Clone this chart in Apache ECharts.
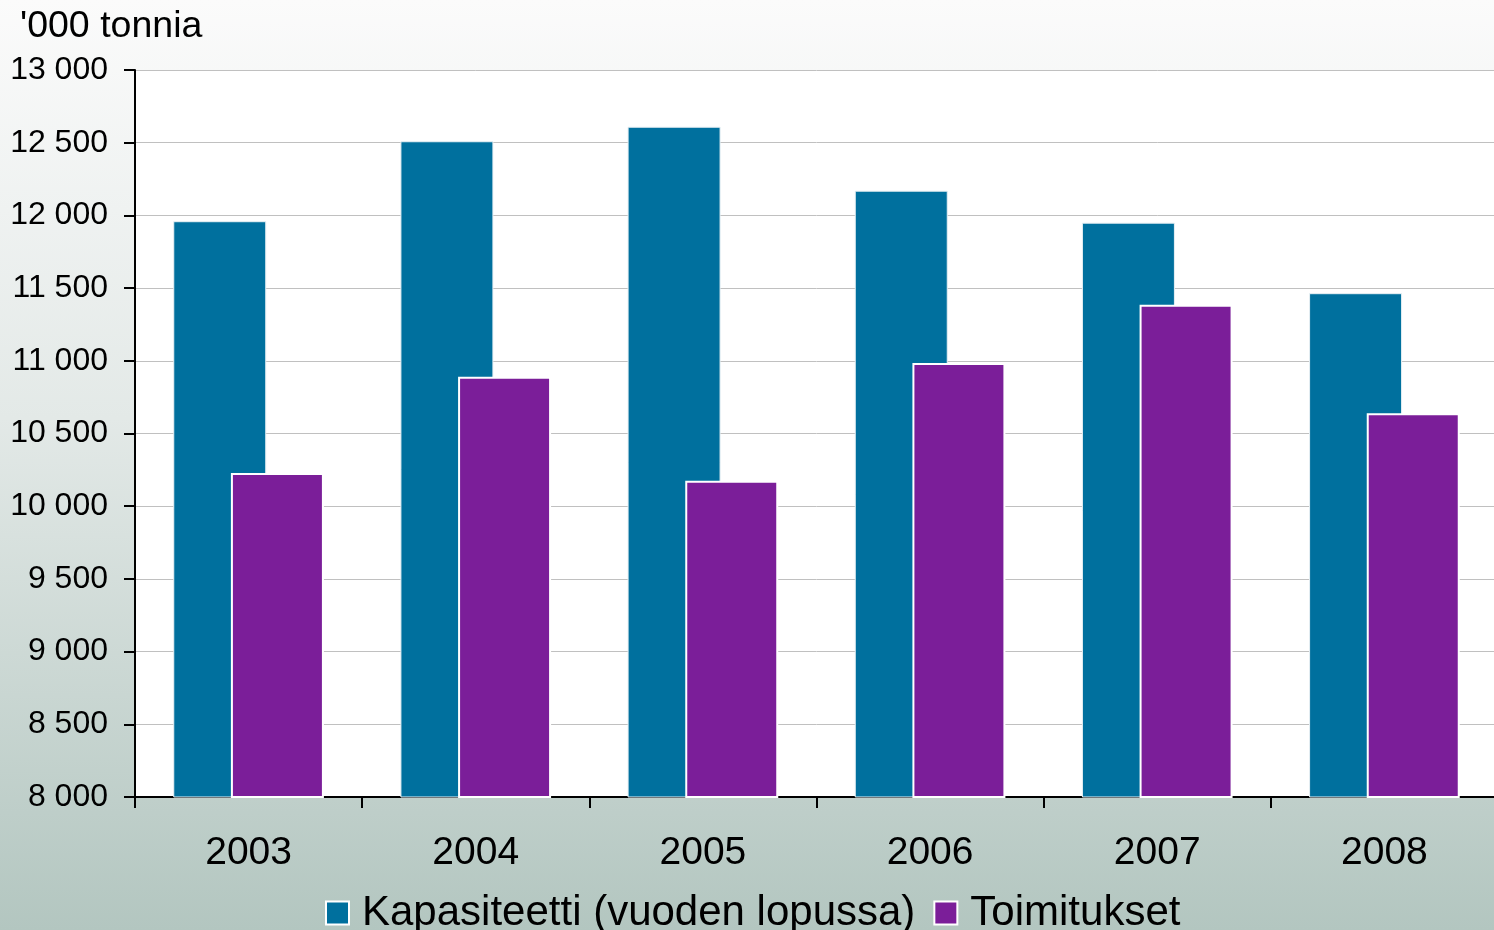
<!DOCTYPE html>
<html><head><meta charset="utf-8">
<script src="https://cdn.jsdelivr.net/npm/echarts@6/dist/echarts.min.js"></script>
<style>
html,body{margin:0;padding:0;overflow:hidden;width:1494px;height:930px;}
#c{width:1498px;height:930px;background:linear-gradient(to bottom,#fbfbfb 0%,#e3e9e7 45%,#b3c6c0 100%);}
</style></head>
<body><div id="c"></div>
<script>
const years = ['2003','2004','2005','2006','2007','2008'];
const kapasiteetti = [11960, 12510, 12610, 12170, 11950, 11465];
const toimitukset = [10228, 10890, 10175, 10985, 11385, 10640];
const yTitle = "'000 tonnia";
const seriesNames = ['Kapasiteetti (vuoden lopussa)', 'Toimitukset'];

const font = '"Liberation Sans", Arial, sans-serif';
const chart = echarts.init(document.getElementById('c'), null, {renderer:'canvas'});
chart.setOption({
  backgroundColor: 'transparent',
  animation: false,
  title: {
    text: yTitle, left: 15, top: 3,
    textStyle: {fontFamily: font, fontSize: 37.5, fontWeight: 'normal', color: '#000'}
  },
  grid: {left: 135, right: 0, top: 70, bottom: 133, show: true, backgroundColor: '#fff', borderWidth: 0},
  legend: {
    left: 320, top: 887,
    itemWidth: 23, itemHeight: 23, itemGap: 18,
    icon: 'rect',
    itemStyle: {borderColor: '#fff', borderWidth: 2},
    textStyle: {fontFamily: font, fontSize: 42, color: '#000', padding: [0,0,0,8]},
    data: seriesNames
  },
  xAxis: {
    type: 'category', data: years,
    axisLine: {lineStyle: {color: '#000', width: 2}},
    axisTick: {show: true, length: 11, lineStyle: {color: '#000', width: 2}},
    axisLabel: {fontFamily: font, fontSize: 39, color: '#000', margin: 37}
  },
  yAxis: {
    type: 'value', min: 8000, max: 13000, interval: 500,
    axisLine: {show: true, lineStyle: {color: '#000', width: 2}},
    axisTick: {show: true, length: 11, lineStyle: {color: '#000', width: 2}},
    splitLine: {lineStyle: {color: '#c0c0c0', width: 1}},
    axisLabel: {
      fontFamily: font, fontSize: 32, color: '#000', margin: 27,
      formatter: v => String(Math.floor(v/1000)) + ' ' + String(v%1000).padStart(3,'0')
    }
  },
  series: [
    {name: seriesNames[0], type: 'bar', data: kapasiteetti, barWidth: 93, barGap: '-38%',
     itemStyle: {color: '#00709e', borderColor: '#e8f0f4', borderWidth: 1}},
    {name: seriesNames[1], type: 'bar', data: toimitukset, barWidth: 93,
     itemStyle: {color: '#7b1e99', borderColor: '#fff', borderWidth: 2}}
  ]
});
</script></body></html>
